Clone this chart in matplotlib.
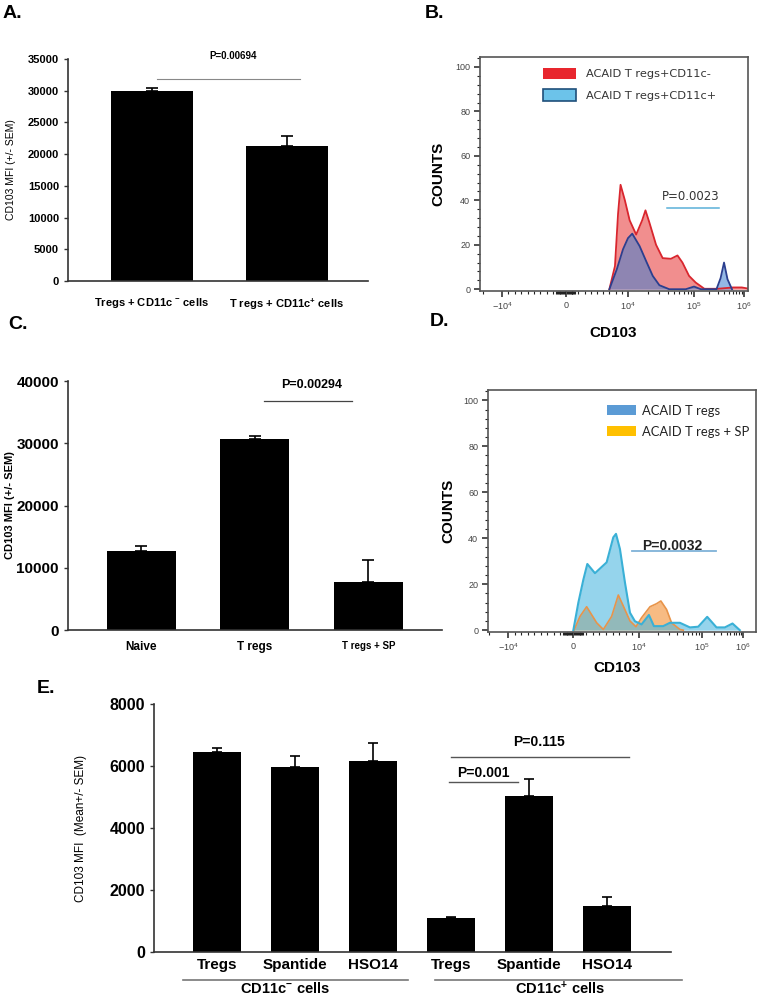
import numpy as np
import matplotlib
matplotlib.use('Agg')
import matplotlib.pyplot as plt
from matplotlib.patches import Patch
from matplotlib.ticker import MultipleLocator
from matplotlib.transforms import blended_transform_factory

plt.rcParams['font.family'] = ['Liberation Sans', 'DejaVu Sans']
plt.rcParams['mathtext.fontset'] = 'custom'
plt.rcParams['mathtext.rm'] = 'Liberation Sans'
plt.rcParams['mathtext.bf'] = 'Liberation Sans:bold'
plt.rcParams['mathtext.it'] = 'Liberation Sans:italic'

# ---------------- data ----------------
# A: CD103 MFI, Tregs with CD11c- / CD11c+ cells
a_labels = [r'Tregs + CD11c $^{\mathbf{-}}$ cells', r'T regs + CD11c$^{\mathbf{+}}$ cells']
a_mean = [30000, 21300]
a_sem = [500, 1550]

# B: histograms (CD103 value, counts)
b_neg_x = [7000, 7900, 8400, 8800, 9500, 10600, 13300, 16400, 18400, 21100, 26600,
           33500, 44700, 56200, 66800, 84100, 108000, 161000, 300000, 600000, 900000, 1200000]
b_neg_y = [0, 10.4, 34, 47, 40, 31, 24.6, 31, 35.5, 30, 20,
           14, 13.7, 15.2, 12, 6, 3, 0.2, 0.2, 0.8, 0.8, 0.3]
b_pos_x = [7000, 8200, 9200, 10000, 11600, 15000, 18800, 23700, 29900, 42200, 75000,
           100000, 137000, 281000, 340000, 398000, 467000, 574000]
b_pos_y = [0, 9, 18, 23, 25, 19.4, 12.7, 6, 1.8, 0, 0,
           1.2, 0, 0, 5, 12, 4.5, 0]

# C: CD103 MFI
c_labels = ['Naive', 'T regs', 'T regs + SP']
c_mean = [12730, 30610, 7750]
c_sem = [750, 580, 3490]

# D: histograms (CD103 value, counts)
d_treg_x = [50, 810, 1570, 2170, 3330, 5100, 6110, 6520, 7120, 7880, 8640, 9390, 11000,
            14400, 17300, 24300, 31000, 44800, 64600, 87500, 135000, 228000, 364000, 560000, 845000]
d_treg_y = [0, 12, 22, 28.8, 24.8, 29.5, 40.4, 41.9, 35.3, 20.7, 7.6, 3.9, 2.5,
            6.6, 1.75, 1.75, 3.2, 3.2, 1.2, 1.5, 5.8, 1.2, 1.2, 2.9, 0]
d_sp_x = [150, 1060, 2070, 3590, 4600, 5860, 6870, 7630, 8640, 9550, 11000, 15000,
          19000, 22300, 27500, 33000, 44800, 50600]
d_sp_y = [0, 6, 10.2, 3.2, 0.3, 6, 15.3, 10.5, 4, 1.5, 5.4, 10.2,
          11.5, 12.7, 9, 3.2, 0.3, 0]

# E: CD103 MFI by treatment
e_labels = ['Tregs', 'Spantide', 'HSO14', 'Tregs', 'Spantide', 'HSO14']
e_mean = [6440, 5980, 6170, 1110, 5030, 1490]
e_sem = [130, 340, 560, 10, 540, 280]

cyto_ticks = [-1e4, 0, 1e4, 1e5, 1e6]
cyto_ticklabels = [r'$\mathregular{-10^4}$', '0', r'$\mathregular{10^4}$',
                   r'$\mathregular{10^5}$', r'$\mathregular{10^6}$']

# ---------------- cytometry axis scale (linear near 0, log above 1e4) ----------------
LIN = 1e4


def to_decades(x):
    x = np.asarray(x, dtype=float)
    a = np.abs(x)
    return np.where(a <= LIN, x / LIN, np.sign(x) * (1 + np.log10(np.maximum(a, LIN) / LIN)))


def from_decades(u):
    u = np.asarray(u, dtype=float)
    a = np.abs(u)
    return np.where(a <= 1, u * LIN, np.sign(u) * LIN * 10 ** (np.maximum(a, 1) - 1))


def cyto_scale(spacing):
    # spacing: relative display position of -1e4, 0, 1e4, 1e5, 1e6 on the instrument plot
    u = [-4, -1, 0, 1, 2, 3, 6]
    p = ([spacing[0] - 3 * (spacing[1] - spacing[0])] + list(spacing)
         + [spacing[-1] + 3 * (spacing[-1] - spacing[-2])])

    def fwd(x):
        return np.interp(to_decades(x), u, p)

    def inv(q):
        return from_decades(np.interp(q, p, u))
    return fwd, inv


def cyto_minor():
    lin = [k * 1000 for k in range(-9, 10) if k != 0]
    blob = list(np.arange(-1500, 1501, 150))
    logs = [m * 10 ** e for e in (4, 5) for m in range(2, 10)]
    return lin + blob + logs + [-2e4]


W, H = 760, 997


def box(l, t, r, b):
    return [l / W, 1 - b / H, (r - l) / W, (b - t) / H]


def bar_axes(ax, ticksize):
    for s in ('top', 'right'):
        ax.spines[s].set_visible(False)
    for s in ('left', 'bottom'):
        ax.spines[s].set_color('#333')
        ax.spines[s].set_linewidth(1.2)
    ax.tick_params(axis='y', direction='out', length=3, width=1, color='#333', labelsize=ticksize)
    ax.tick_params(axis='x', length=0)


def bars(ax, mean, sem, width, capsize):
    x = np.arange(len(mean))
    ax.bar(x, mean, width, color='black', zorder=2)
    ax.errorbar(x, mean, yerr=[np.zeros(len(sem)), sem], fmt='none', ecolor='black',
                elinewidth=1.2, capsize=capsize, capthick=1.2, zorder=3)
    return x


def cyto_axes(ax, xlim, spacing, ylab_x):
    ax.set_xscale('function', functions=cyto_scale(spacing))
    ax.set_xlim(*xlim)
    ax.set_ylim(-0.8, 104.5)
    ax.set_xticks(cyto_ticks)
    ax.set_xticklabels(cyto_ticklabels)
    ax.set_xticks(cyto_minor(), minor=True)
    ax.set_yticks(range(0, 101, 20))
    ax.yaxis.set_minor_locator(MultipleLocator(4))
    ax.tick_params(which='major', direction='out', length=4, width=1.2, labelsize=6.5,
                   labelcolor='#444', color='#333', pad=3)
    ax.tick_params(which='minor', direction='out', length=2.2, width=0.8, color='#222')
    for s in ax.spines.values():
        s.set_color('#555')
        s.set_linewidth(1.2)
    ax.set_ylabel('COUNTS', fontsize=11, fontweight='bold')
    ax.yaxis.set_label_coords(ylab_x, 0.5)


fig = plt.figure(figsize=(W / 100, H / 100), dpi=100)

# ---------------- A ----------------
ax = fig.add_axes(box(68, 59, 368, 281))
bar_axes(ax, 8)
x = bars(ax, a_mean, a_sem, 0.607, 4)
ax.set_xlim(-0.622, 1.6)
ax.set_ylim(0, 35000)
ax.set_yticks(range(0, 35001, 5000), [str(v) for v in range(0, 35001, 5000)], fontweight='bold')
ax.set_xticks(x, a_labels, fontsize=8, fontweight='bold')
ax.tick_params(axis='x', pad=11)
ax.set_ylabel('CD103 MFI (+/- SEM)', fontsize=7.5)
ax.yaxis.set_label_coords(-0.173, 0.5)
ax.plot([0.04, 1.10], [31900, 31900], color='#888', lw=0.8, clip_on=False)
ax.text(0.6, 35400, 'P=0.00694', ha='center', va='center', fontsize=7, fontweight='bold')

# ---------------- B ----------------
ax = fig.add_axes(box(480, 57, 748, 291))
cyto_axes(ax, (-2.2e4, 1.2e6), [0, 64, 126, 192, 242], -0.131)
ax.fill_between(b_neg_x, b_neg_y, color='#ef7a7a', alpha=0.85, lw=0)
ax.plot(b_neg_x, b_neg_y, color='#d9262e', lw=1.3)
ax.fill_between(b_pos_x, b_pos_y, color='#3d7fd0', alpha=0.55, lw=0)
ax.plot(b_pos_x, b_pos_y, color='#2b3f8f', lw=1.3)
ax.plot([39300, 321000], [36.4, 36.4], color='#5ab0d8', lw=1.1)
ax.text(88900, 41.6, 'P=0.0023', ha='center', va='center', fontsize=8.5,
        family='DejaVu Sans', color='#333')
handles = [Patch(facecolor='#e8262e', edgecolor='none'),
           Patch(facecolor='#6cc3ea', edgecolor='#1f4f7a', linewidth=1.2)]
ax.legend(handles, ['ACAID T regs+CD11c-', 'ACAID T regs+CD11c+'], loc='upper left',
          bbox_to_anchor=(0.235, 0.955), frameon=False, borderaxespad=0, borderpad=0,
          handlelength=2.9, handleheight=1.2, handletextpad=0.85, labelspacing=0.85,
          prop={'family': 'DejaVu Sans', 'size': 8.2}, labelcolor='#333')
ax.text(0.496, -0.18, 'CD103', transform=ax.transAxes, ha='center', va='center',
        fontsize=11, fontweight='bold')

# ---------------- C ----------------
ax = fig.add_axes(box(68, 381, 442, 630))
bar_axes(ax, 11)
x = bars(ax, c_mean, c_sem, 0.61, 4)
ax.set_xlim(-0.648, 2.65)
ax.set_ylim(0, 40000)
ax.set_yticks(range(0, 40001, 10000), [str(v) for v in range(0, 40001, 10000)], fontweight='bold')
ax.set_xticks(x, c_labels, fontsize=8.5, fontweight='bold')
ax.get_xticklabels()[2].set_fontsize(7)
ax.tick_params(axis='x', pad=8)
ax.set_ylabel('CD103 MFI (+/- SEM)', fontsize=8, fontweight='bold')
ax.yaxis.set_label_coords(-0.142, 0.5)
ax.plot([1.08, 1.86], [36760, 36760], color='#444', lw=0.9)
ax.text(1.5, 39300, 'P=0.00294', ha='center', va='center', fontsize=9, fontweight='bold')

# ---------------- D ----------------
ax = fig.add_axes(box(488, 390, 756, 632))
cyto_axes(ax, (-2.04e4, 2.1e6), [0, 65, 131, 194, 235], -0.123)
ax.fill_between(d_sp_x, d_sp_y, color='#f5a55a', alpha=0.75, lw=0)
ax.plot(d_sp_x, d_sp_y, color='#e8944a', lw=1.2)
ax.fill_between(d_treg_x, d_treg_y, color='#4fb8e0', alpha=0.6, lw=0)
ax.plot(d_treg_x, d_treg_y, color='#3ab0d6', lw=1.5)
ax.plot([8890, 218000], [34.6, 34.6], color='#7fb2d8', lw=1.3)
ax.text(34200, 36.8, 'P=0.0032', ha='center', va='center', fontsize=10,
        fontweight='bold', color='#222')
handles = [Patch(facecolor='#5b9bd5', edgecolor='none'),
           Patch(facecolor='#ffc000', edgecolor='none')]
ax.legend(handles, ['ACAID T regs', 'ACAID T regs + SP'], loc='upper left',
          bbox_to_anchor=(0.445, 0.94), frameon=False, borderaxespad=0, borderpad=0,
          handlelength=2.2, handleheight=0.8, handletextpad=0.45, labelspacing=0.7,
          prop={'family': 'Lato', 'size': 9.4}, labelcolor='#222')
ax.text(0.48, -0.149, 'CD103', transform=ax.transAxes, ha='center', va='center',
        fontsize=11, fontweight='bold')

# ---------------- E ----------------
ax = fig.add_axes(box(154, 704, 671, 952))
bar_axes(ax, 11.5)
x = bars(ax, e_mean, e_sem, 0.615, 3.5)
ax.set_xlim(-0.81, 5.82)
ax.set_ylim(0, 8000)
ax.set_yticks(range(0, 8001, 2000), [str(v) for v in range(0, 8001, 2000)], fontweight='bold')
ax.set_xticks(x, e_labels, fontsize=11, fontweight='bold')
ax.tick_params(axis='x', pad=4)
ax.set_ylabel('CD103 MFI  (Mean+/- SEM)', fontsize=8.5)
ax.yaxis.set_label_coords(-0.13, 0.5)
ax.plot([2.97, 3.86], [5480, 5480], color='#555', lw=1)
ax.text(3.42, 5770, 'P=0.001', ha='center', va='center', fontsize=10, fontweight='bold')
ax.plot([3.0, 5.28], [6300, 6300], color='#555', lw=1)
ax.text(4.13, 6760, 'P=0.115', ha='center', va='center', fontsize=10, fontweight='bold')
tr = blended_transform_factory(ax.transData, ax.transAxes)
ax.plot([-0.44, 2.45], [-0.113, -0.113], color='#777', lw=1.2, transform=tr, clip_on=False)
ax.plot([2.79, 5.96], [-0.113, -0.113], color='#777', lw=1.2, transform=tr, clip_on=False)
ax.text(0.87, -0.147, r'CD11c$^{\mathbf{-}}$ cells', transform=tr, ha='center', va='center',
        fontsize=10.5, fontweight='bold')
ax.text(4.40, -0.147, r'CD11c$^{\mathbf{+}}$ cells', transform=tr, ha='center', va='center',
        fontsize=10.5, fontweight='bold')

# ---------------- panel letters ----------------
for lbl, px, py in [('A.', 3, 5), ('B.', 425, 5), ('C.', 8, 316), ('D.', 430, 313), ('E.', 37, 680)]:
    fig.text(px / W, 1 - py / H, lbl, ha='left', va='top', fontsize=14, fontweight='bold')

fig.savefig('out.png', dpi=100)
